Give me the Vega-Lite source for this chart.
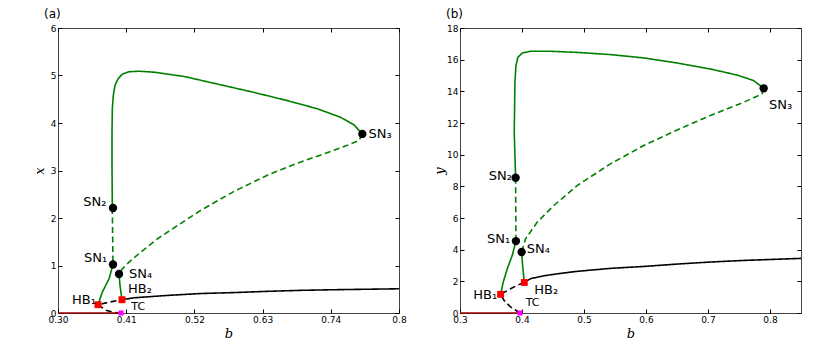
{
  "$schema": "https://vega.github.io/schema/vega-lite/v6.json",
  "padding": {"left": 32, "top": 7, "right": 5, "bottom": 5},
  "background": "white",
  "config": {
    "font": "DejaVu Sans",
    "view": {"stroke": "#444", "strokeWidth": 1},
    "axis": {"labelFont": "DejaVu Sans", "labelFontSize": 9, "labelColor": "#000", "tickColor": "#000", "domain": false, "grid": false, "tickSize": -4, "labelPadding": 6, "labelFlush": false, "labelOverlap": false, "titleFont": "DejaVu Serif", "titleFontStyle": "italic", "titleFontWeight": "normal", "titleFontSize": 13, "titleColor": "#000"}
  },
  "datasets": {
    "lines": [
      {"p":"a","seg":"a_up","kind":"green","style":"solid","o":0,"b":0.3876,"v":2.21},
      {"p":"a","seg":"a_up","kind":"green","style":"solid","o":1,"b":0.3871,"v":3.105},
      {"p":"a","seg":"a_up","kind":"green","style":"solid","o":2,"b":0.3871,"v":3.81},
      {"p":"a","seg":"a_up","kind":"green","style":"solid","o":3,"b":0.3876,"v":4.30},
      {"p":"a","seg":"a_up","kind":"green","style":"solid","o":4,"b":0.3892,"v":4.58},
      {"p":"a","seg":"a_up","kind":"green","style":"solid","o":5,"b":0.3919,"v":4.79},
      {"p":"a","seg":"a_up","kind":"green","style":"solid","o":6,"b":0.3968,"v":4.93},
      {"p":"a","seg":"a_up","kind":"green","style":"solid","o":7,"b":0.4038,"v":5.03},
      {"p":"a","seg":"a_up","kind":"green","style":"solid","o":8,"b":0.4145,"v":5.08},
      {"p":"a","seg":"a_up","kind":"green","style":"solid","o":9,"b":0.4306,"v":5.09},
      {"p":"a","seg":"a_up","kind":"green","style":"solid","o":10,"b":0.4548,"v":5.07},
      {"p":"a","seg":"a_up","kind":"green","style":"solid","o":11,"b":0.5032,"v":4.98},
      {"p":"a","seg":"a_up","kind":"green","style":"solid","o":12,"b":0.557,"v":4.82},
      {"p":"a","seg":"a_up","kind":"green","style":"solid","o":13,"b":0.6108,"v":4.66},
      {"p":"a","seg":"a_up","kind":"green","style":"solid","o":14,"b":0.6645,"v":4.49},
      {"p":"a","seg":"a_up","kind":"green","style":"solid","o":15,"b":0.7183,"v":4.30},
      {"p":"a","seg":"a_up","kind":"green","style":"solid","o":16,"b":0.7559,"v":4.12},
      {"p":"a","seg":"a_up","kind":"green","style":"solid","o":17,"b":0.7774,"v":3.96},
      {"p":"a","seg":"a_up","kind":"green","style":"solid","o":18,"b":0.7909,"v":3.77},
      {"p":"a","seg":"a_udash","kind":"green","style":"dashed","o":0,"b":0.7909,"v":3.77},
      {"p":"a","seg":"a_udash","kind":"green","style":"dashed","o":1,"b":0.7855,"v":3.63},
      {"p":"a","seg":"a_udash","kind":"green","style":"dashed","o":2,"b":0.7667,"v":3.53},
      {"p":"a","seg":"a_udash","kind":"green","style":"dashed","o":3,"b":0.7398,"v":3.40},
      {"p":"a","seg":"a_udash","kind":"green","style":"dashed","o":4,"b":0.6914,"v":3.18},
      {"p":"a","seg":"a_udash","kind":"green","style":"dashed","o":5,"b":0.6376,"v":2.90},
      {"p":"a","seg":"a_udash","kind":"green","style":"dashed","o":6,"b":0.5839,"v":2.56},
      {"p":"a","seg":"a_udash","kind":"green","style":"dashed","o":7,"b":0.5301,"v":2.16},
      {"p":"a","seg":"a_udash","kind":"green","style":"dashed","o":8,"b":0.4925,"v":1.84},
      {"p":"a","seg":"a_udash","kind":"green","style":"dashed","o":9,"b":0.4602,"v":1.56},
      {"p":"a","seg":"a_udash","kind":"green","style":"dashed","o":10,"b":0.4333,"v":1.28},
      {"p":"a","seg":"a_udash","kind":"green","style":"dashed","o":11,"b":0.4145,"v":1.07},
      {"p":"a","seg":"a_udash","kind":"green","style":"dashed","o":12,"b":0.4038,"v":0.93},
      {"p":"a","seg":"a_udash","kind":"green","style":"dashed","o":13,"b":0.3984,"v":0.82},
      {"p":"a","seg":"a_vdash","kind":"green","style":"dashed","o":0,"b":0.3876,"v":2.21},
      {"p":"a","seg":"a_vdash","kind":"green","style":"dashed","o":1,"b":0.3887,"v":1.02},
      {"p":"a","seg":"a_sn1hb1","kind":"green","style":"solid","o":0,"b":0.3887,"v":1.02},
      {"p":"a","seg":"a_sn1hb1","kind":"green","style":"solid","o":1,"b":0.3823,"v":0.72},
      {"p":"a","seg":"a_sn1hb1","kind":"green","style":"solid","o":2,"b":0.3715,"v":0.44},
      {"p":"a","seg":"a_sn1hb1","kind":"green","style":"solid","o":3,"b":0.3645,"v":0.175},
      {"p":"a","seg":"a_sn4hb2","kind":"green","style":"solid","o":0,"b":0.3984,"v":0.82},
      {"p":"a","seg":"a_sn4hb2","kind":"green","style":"solid","o":1,"b":0.4000,"v":0.58},
      {"p":"a","seg":"a_sn4hb2","kind":"green","style":"solid","o":2,"b":0.4032,"v":0.28},
      {"p":"a","seg":"a_bdash","kind":"black","style":"dashed","o":0,"b":0.4016,"v":0},
      {"p":"a","seg":"a_bdash","kind":"black","style":"dashed","o":1,"b":0.3903,"v":0.01},
      {"p":"a","seg":"a_bdash","kind":"black","style":"dashed","o":2,"b":0.377,"v":0.06},
      {"p":"a","seg":"a_bdash","kind":"black","style":"dashed","o":3,"b":0.3645,"v":0.175},
      {"p":"a","seg":"a_bdash","kind":"black","style":"dashed","o":4,"b":0.383,"v":0.23},
      {"p":"a","seg":"a_bdash","kind":"black","style":"dashed","o":5,"b":0.4032,"v":0.28},
      {"p":"a","seg":"a_bsolid","kind":"black","style":"solid","o":0,"b":0.4032,"v":0.28},
      {"p":"a","seg":"a_bsolid","kind":"black","style":"solid","o":1,"b":0.4226,"v":0.32},
      {"p":"a","seg":"a_bsolid","kind":"black","style":"solid","o":2,"b":0.4763,"v":0.37},
      {"p":"a","seg":"a_bsolid","kind":"black","style":"solid","o":3,"b":0.5301,"v":0.41},
      {"p":"a","seg":"a_bsolid","kind":"black","style":"solid","o":4,"b":0.5839,"v":0.43},
      {"p":"a","seg":"a_bsolid","kind":"black","style":"solid","o":5,"b":0.6376,"v":0.456},
      {"p":"a","seg":"a_bsolid","kind":"black","style":"solid","o":6,"b":0.6914,"v":0.477},
      {"p":"a","seg":"a_bsolid","kind":"black","style":"solid","o":7,"b":0.7452,"v":0.49},
      {"p":"a","seg":"a_bsolid","kind":"black","style":"solid","o":8,"b":0.85,"v":0.51},
      {"p":"a","seg":"a_red","kind":"red","style":"solid","o":0,"b":0.3,"v":0},
      {"p":"a","seg":"a_red","kind":"red","style":"solid","o":1,"b":0.4016,"v":0},

      {"p":"b","seg":"b_up","kind":"green","style":"solid","o":0,"b":0.3897,"v":8.54},
      {"p":"b","seg":"b_up","kind":"green","style":"solid","o":1,"b":0.3875,"v":11.42},
      {"p":"b","seg":"b_up","kind":"green","style":"solid","o":2,"b":0.3886,"v":14.57},
      {"p":"b","seg":"b_up","kind":"green","style":"solid","o":3,"b":0.3902,"v":15.62},
      {"p":"b","seg":"b_up","kind":"green","style":"solid","o":4,"b":0.3934,"v":16.15},
      {"p":"b","seg":"b_up","kind":"green","style":"solid","o":5,"b":0.4004,"v":16.42},
      {"p":"b","seg":"b_up","kind":"green","style":"solid","o":6,"b":0.4138,"v":16.53},
      {"p":"b","seg":"b_up","kind":"green","style":"solid","o":7,"b":0.446,"v":16.53},
      {"p":"b","seg":"b_up","kind":"green","style":"solid","o":8,"b":0.489,"v":16.46},
      {"p":"b","seg":"b_up","kind":"green","style":"solid","o":9,"b":0.5427,"v":16.32},
      {"p":"b","seg":"b_up","kind":"green","style":"solid","o":10,"b":0.5964,"v":16.11},
      {"p":"b","seg":"b_up","kind":"green","style":"solid","o":11,"b":0.6501,"v":15.79},
      {"p":"b","seg":"b_up","kind":"green","style":"solid","o":12,"b":0.7038,"v":15.41},
      {"p":"b","seg":"b_up","kind":"green","style":"solid","o":13,"b":0.7468,"v":15.03},
      {"p":"b","seg":"b_up","kind":"green","style":"solid","o":14,"b":0.7736,"v":14.68},
      {"p":"b","seg":"b_up","kind":"green","style":"solid","o":15,"b":0.7898,"v":14.19},
      {"p":"b","seg":"b_udash","kind":"green","style":"dashed","o":0,"b":0.7898,"v":14.19},
      {"p":"b","seg":"b_udash","kind":"green","style":"dashed","o":1,"b":0.787,"v":13.84},
      {"p":"b","seg":"b_udash","kind":"green","style":"dashed","o":2,"b":0.7575,"v":13.31},
      {"p":"b","seg":"b_udash","kind":"green","style":"dashed","o":3,"b":0.7038,"v":12.47},
      {"p":"b","seg":"b_udash","kind":"green","style":"dashed","o":4,"b":0.6501,"v":11.56},
      {"p":"b","seg":"b_udash","kind":"green","style":"dashed","o":5,"b":0.5964,"v":10.58},
      {"p":"b","seg":"b_udash","kind":"green","style":"dashed","o":6,"b":0.5427,"v":9.42},
      {"p":"b","seg":"b_udash","kind":"green","style":"dashed","o":7,"b":0.489,"v":8.05},
      {"p":"b","seg":"b_udash","kind":"green","style":"dashed","o":8,"b":0.4514,"v":6.79},
      {"p":"b","seg":"b_udash","kind":"green","style":"dashed","o":9,"b":0.4246,"v":5.74},
      {"p":"b","seg":"b_udash","kind":"green","style":"dashed","o":10,"b":0.4058,"v":4.69},
      {"p":"b","seg":"b_udash","kind":"green","style":"dashed","o":11,"b":0.3994,"v":3.85},
      {"p":"b","seg":"b_vdash","kind":"green","style":"dashed","o":0,"b":0.3897,"v":8.54},
      {"p":"b","seg":"b_vdash","kind":"green","style":"dashed","o":1,"b":0.3902,"v":4.54},
      {"p":"b","seg":"b_sn1hb1","kind":"green","style":"solid","o":0,"b":0.3902,"v":4.54},
      {"p":"b","seg":"b_sn1hb1","kind":"green","style":"solid","o":1,"b":0.3843,"v":3.64},
      {"p":"b","seg":"b_sn1hb1","kind":"green","style":"solid","o":2,"b":0.3763,"v":2.80},
      {"p":"b","seg":"b_sn1hb1","kind":"green","style":"solid","o":3,"b":0.3698,"v":1.96},
      {"p":"b","seg":"b_sn1hb1","kind":"green","style":"solid","o":4,"b":0.3655,"v":1.18},
      {"p":"b","seg":"b_sn4hb2","kind":"green","style":"solid","o":0,"b":0.3994,"v":3.85},
      {"p":"b","seg":"b_sn4hb2","kind":"green","style":"solid","o":1,"b":0.401,"v":3.0},
      {"p":"b","seg":"b_sn4hb2","kind":"green","style":"solid","o":2,"b":0.4037,"v":1.93},
      {"p":"b","seg":"b_bdash","kind":"black","style":"dashed","o":0,"b":0.3967,"v":0},
      {"p":"b","seg":"b_bdash","kind":"black","style":"dashed","o":1,"b":0.3816,"v":0.38},
      {"p":"b","seg":"b_bdash","kind":"black","style":"dashed","o":2,"b":0.3709,"v":0.80},
      {"p":"b","seg":"b_bdash","kind":"black","style":"dashed","o":3,"b":0.3655,"v":1.18},
      {"p":"b","seg":"b_bdash","kind":"black","style":"dashed","o":4,"b":0.3816,"v":1.53},
      {"p":"b","seg":"b_bdash","kind":"black","style":"dashed","o":5,"b":0.3924,"v":1.75},
      {"p":"b","seg":"b_bdash","kind":"black","style":"dashed","o":6,"b":0.4037,"v":1.93},
      {"p":"b","seg":"b_bsolid","kind":"black","style":"solid","o":0,"b":0.4037,"v":1.93},
      {"p":"b","seg":"b_bsolid","kind":"black","style":"solid","o":1,"b":0.4138,"v":2.17},
      {"p":"b","seg":"b_bsolid","kind":"black","style":"solid","o":2,"b":0.4353,"v":2.35},
      {"p":"b","seg":"b_bsolid","kind":"black","style":"solid","o":3,"b":0.462,"v":2.50},
      {"p":"b","seg":"b_bsolid","kind":"black","style":"solid","o":4,"b":0.489,"v":2.63},
      {"p":"b","seg":"b_bsolid","kind":"black","style":"solid","o":5,"b":0.5427,"v":2.82},
      {"p":"b","seg":"b_bsolid","kind":"black","style":"solid","o":6,"b":0.5964,"v":2.94},
      {"p":"b","seg":"b_bsolid","kind":"black","style":"solid","o":7,"b":0.6501,"v":3.09},
      {"p":"b","seg":"b_bsolid","kind":"black","style":"solid","o":8,"b":0.7038,"v":3.22},
      {"p":"b","seg":"b_bsolid","kind":"black","style":"solid","o":9,"b":0.7575,"v":3.32},
      {"p":"b","seg":"b_bsolid","kind":"black","style":"solid","o":10,"b":0.85,"v":3.45},
      {"p":"b","seg":"b_red","kind":"red","style":"solid","o":0,"b":0.3,"v":0},
      {"p":"b","seg":"b_red","kind":"red","style":"solid","o":1,"b":0.3967,"v":0}
    ],
    "points": [
      {"p":"a","t":"SN","b":0.3887,"v":2.21},
      {"p":"a","t":"SN","b":0.3887,"v":1.02},
      {"p":"a","t":"SN","b":0.3984,"v":0.82},
      {"p":"a","t":"SN","b":0.7909,"v":3.77},
      {"p":"a","t":"HB","b":0.3645,"v":0.175},
      {"p":"a","t":"HB","b":0.4032,"v":0.28},
      {"p":"a","t":"TC","b":0.4016,"v":0},
      {"p":"b","t":"SN","b":0.3897,"v":8.54},
      {"p":"b","t":"SN","b":0.3902,"v":4.54},
      {"p":"b","t":"SN","b":0.3994,"v":3.85},
      {"p":"b","t":"SN","b":0.7898,"v":14.19},
      {"p":"b","t":"HB","b":0.3655,"v":1.18},
      {"p":"b","t":"HB","b":0.4037,"v":1.93},
      {"p":"b","t":"TC","b":0.3967,"v":0}
    ],
    "labels": [
      {"p":"a","label":"SN₂","lb":0.3595,"lv":2.33},
      {"p":"a","label":"SN₁","lb":0.3606,"lv":1.16},
      {"p":"a","label":"SN₄","lb":0.4331,"lv":0.83},
      {"p":"a","label":"SN₃","lb":0.8197,"lv":3.77},
      {"p":"a","label":"HB₂","lb":0.4321,"lv":0.51},
      {"p":"a","label":"HB₁","lb":0.3419,"lv":0.28},
      {"p":"a","label":"TC","lb":0.4294,"lv":0.13},
      {"p":"b","label":"SN₂","lb":0.365,"lv":8.68},
      {"p":"b","label":"SN₁","lb":0.3623,"lv":4.65},
      {"p":"b","label":"SN₄","lb":0.4262,"lv":4.06},
      {"p":"b","label":"SN₃","lb":0.8171,"lv":13.14},
      {"p":"b","label":"HB₂","lb":0.4391,"lv":1.47},
      {"p":"b","label":"HB₁","lb":0.3408,"lv":1.16},
      {"p":"b","label":"TC","lb":0.4171,"lv":0.63}
    ]
  },
  "bounds": "flush",
  "spacing": 61,
  "hconcat": [
    {
      "width": 341,
      "height": 285,
      "title": {"text": "(a)", "anchor": "start", "frame": "group", "dx": -14, "offset": -2, "baseline": "middle", "fontSize": 12, "fontWeight": "normal", "font": "DejaVu Sans", "color": "#000"},
      "resolve": {"axis": {"x": "independent", "y": "independent"}},
      "layer": [
        {
          "data": {"name": "lines"},
          "transform": [{"filter": "datum.p == 'a'"}],
          "mark": {"type": "line", "strokeWidth": 1.6},
          "encoding": {
            "x": {"field": "b", "type": "quantitative", "scale": {"domain": [0.3, 0.85], "nice": false, "zero": false},
                  "axis": {"values": [0.3, 0.41, 0.52, 0.63, 0.74, 0.85], "labelExpr": "datum.value > 0.84 ? '0.8' : format(datum.value, '.2f')", "title": "b", "titleY": 20, "titleBaseline": "middle"}},
            "y": {"field": "v", "type": "quantitative", "scale": {"domain": [0, 6], "nice": false},
                  "axis": {"values": [0, 1, 2, 3, 4, 5, 6], "format": "d", "title": "x", "titleX": -19, "titleY": 142.5, "titleBaseline": "middle", "titleAngle": -90}},
            "stroke": {"field": "kind", "type": "nominal", "scale": {"domain": ["green", "black", "red"], "range": ["#008000", "#000000", "#9b0000"]}, "legend": null},
            "strokeDash": {"field": "style", "type": "nominal", "scale": {"domain": ["solid", "dashed"], "range": [[1, 0], [6, 3.5]]}, "legend": null},
            "detail": {"field": "seg"},
            "order": {"field": "o", "type": "quantitative"}
          }
        },
        {
          "data": {"name": "points"},
          "transform": [{"filter": "datum.p == 'a'"}],
          "mark": {"type": "point", "filled": true, "opacity": 1, "strokeWidth": 0},
          "encoding": {
            "x": {"field": "b", "type": "quantitative", "axis": null},
            "y": {"field": "v", "type": "quantitative", "axis": null},
            "shape": {"field": "t", "type": "nominal", "scale": {"domain": ["SN", "HB", "TC"], "range": ["circle", "square", "square"]}, "legend": null},
            "fill": {"field": "t", "type": "nominal", "scale": {"domain": ["SN", "HB", "TC"], "range": ["#000000", "#ff0000", "#ff00ff"]}, "legend": null},
            "size": {"field": "t", "type": "ordinal", "scale": {"domain": ["SN", "HB", "TC"], "range": [70, 26, 12]}, "legend": null}
          }
        },
        {
          "data": {"name": "labels"},
          "transform": [{"filter": "datum.p == 'a' && datum.label != 'TC'"}],
          "mark": {"type": "text", "fontSize": 13, "font": "DejaVu Sans", "align": "center", "baseline": "middle", "color": "#000"},
          "encoding": {
            "x": {"field": "lb", "type": "quantitative", "axis": null},
            "y": {"field": "lv", "type": "quantitative", "axis": null},
            "text": {"field": "label"}
          }
        },
        {
          "data": {"name": "labels"},
          "transform": [{"filter": "datum.p == 'a' && datum.label == 'TC'"}],
          "mark": {"type": "text", "fontSize": 11, "font": "DejaVu Sans", "align": "center", "baseline": "middle", "color": "#000"},
          "encoding": {
            "x": {"field": "lb", "type": "quantitative", "axis": null},
            "y": {"field": "lv", "type": "quantitative", "axis": null},
            "text": {"field": "label"}
          }
        },
        {
          "data": {"name": "points"},
          "transform": [{"filter": "datum.p == 'a'"}],
          "mark": {"type": "point", "opacity": 0},
          "encoding": {
            "x": {"field": "b", "type": "quantitative", "axis": {"orient": "top", "values": [0.3, 0.41, 0.52, 0.63, 0.74, 0.85], "labels": false, "title": null}},
            "y": {"field": "v", "type": "quantitative", "axis": {"orient": "right", "values": [0, 1, 2, 3, 4, 5, 6], "labels": false, "title": null}}
          }
        }
      ]
    },
    {
      "width": 341,
      "height": 285,
      "title": {"text": "(b)", "anchor": "start", "frame": "group", "dx": -14, "offset": -2, "baseline": "middle", "fontSize": 12, "fontWeight": "normal", "font": "DejaVu Sans", "color": "#000"},
      "resolve": {"axis": {"x": "independent", "y": "independent"}},
      "layer": [
        {
          "data": {"name": "lines"},
          "transform": [{"filter": "datum.p == 'b'"}],
          "mark": {"type": "line", "strokeWidth": 1.6},
          "encoding": {
            "x": {"field": "b", "type": "quantitative", "scale": {"domain": [0.3, 0.85], "nice": false, "zero": false},
                  "axis": {"values": [0.3, 0.4, 0.5, 0.6, 0.7, 0.8], "format": ".1f", "title": "b", "titleY": 20, "titleBaseline": "middle"}},
            "y": {"field": "v", "type": "quantitative", "scale": {"domain": [0, 18], "nice": false},
                  "axis": {"values": [0, 2, 4, 6, 8, 10, 12, 14, 16, 18], "format": "d", "title": "y", "titleX": -21, "titleY": 142.5, "titleBaseline": "middle", "titleAngle": -90}},
            "stroke": {"field": "kind", "type": "nominal", "scale": {"domain": ["green", "black", "red"], "range": ["#008000", "#000000", "#9b0000"]}, "legend": null},
            "strokeDash": {"field": "style", "type": "nominal", "scale": {"domain": ["solid", "dashed"], "range": [[1, 0], [6, 3.5]]}, "legend": null},
            "detail": {"field": "seg"},
            "order": {"field": "o", "type": "quantitative"}
          }
        },
        {
          "data": {"name": "points"},
          "transform": [{"filter": "datum.p == 'b'"}],
          "mark": {"type": "point", "filled": true, "opacity": 1, "strokeWidth": 0},
          "encoding": {
            "x": {"field": "b", "type": "quantitative", "axis": null},
            "y": {"field": "v", "type": "quantitative", "axis": null},
            "shape": {"field": "t", "type": "nominal", "scale": {"domain": ["SN", "HB", "TC"], "range": ["circle", "square", "square"]}, "legend": null},
            "fill": {"field": "t", "type": "nominal", "scale": {"domain": ["SN", "HB", "TC"], "range": ["#000000", "#ff0000", "#ff00ff"]}, "legend": null},
            "size": {"field": "t", "type": "ordinal", "scale": {"domain": ["SN", "HB", "TC"], "range": [70, 26, 12]}, "legend": null}
          }
        },
        {
          "data": {"name": "labels"},
          "transform": [{"filter": "datum.p == 'b' && datum.label != 'TC'"}],
          "mark": {"type": "text", "fontSize": 13, "font": "DejaVu Sans", "align": "center", "baseline": "middle", "color": "#000"},
          "encoding": {
            "x": {"field": "lb", "type": "quantitative", "axis": null},
            "y": {"field": "lv", "type": "quantitative", "axis": null},
            "text": {"field": "label"}
          }
        },
        {
          "data": {"name": "labels"},
          "transform": [{"filter": "datum.p == 'b' && datum.label == 'TC'"}],
          "mark": {"type": "text", "fontSize": 11, "font": "DejaVu Sans", "align": "center", "baseline": "middle", "color": "#000"},
          "encoding": {
            "x": {"field": "lb", "type": "quantitative", "axis": null},
            "y": {"field": "lv", "type": "quantitative", "axis": null},
            "text": {"field": "label"}
          }
        },
        {
          "data": {"name": "points"},
          "transform": [{"filter": "datum.p == 'b'"}],
          "mark": {"type": "point", "opacity": 0},
          "encoding": {
            "x": {"field": "b", "type": "quantitative", "axis": {"orient": "top", "values": [0.3, 0.4, 0.5, 0.6, 0.7, 0.8], "labels": false, "title": null}},
            "y": {"field": "v", "type": "quantitative", "axis": {"orient": "right", "values": [0, 2, 4, 6, 8, 10, 12, 14, 16, 18], "labels": false, "title": null}}
          }
        }
      ]
    }
  ]
}
